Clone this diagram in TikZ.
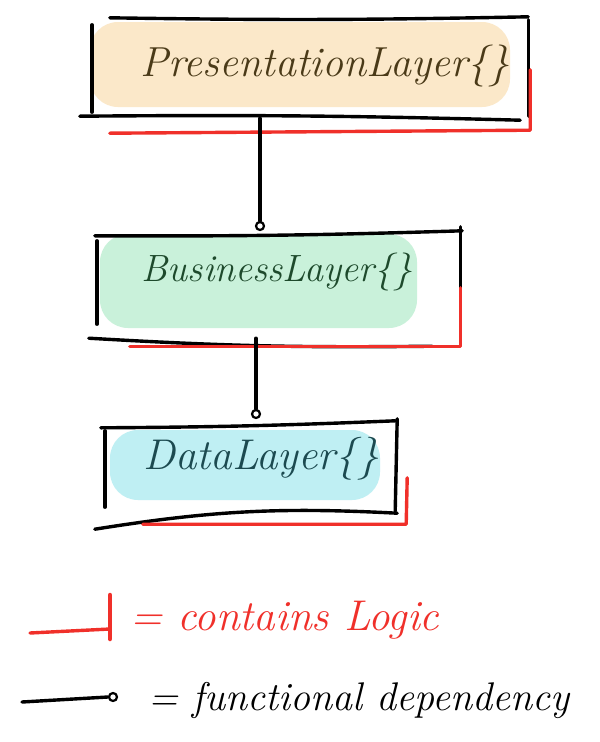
\documentclass[tikz,border=0pt]{standalone}
\usetikzlibrary{calc}
\definecolor{hlorange}{HTML}{FBE8C9}
\definecolor{hlgreen}{HTML}{C9F1DA}
\definecolor{hlcyan}{HTML}{BFEFF3}
\definecolor{presink}{HTML}{4A3A18}
\definecolor{busink}{HTML}{1E4A2C}
\definecolor{dataink}{HTML}{1C4A50}
\definecolor{redink}{HTML}{F0302A}
\begin{document}
\begin{tikzpicture}[x=1pt,y=-1pt,
  ink/.style={line width=3.4pt, line cap=round, draw=black},
  logic/.style={line width=3.4pt, line cap=round, line join=round, draw=redink},
  layerbox/.style={rectangle, inner sep=0pt},
  hl/.style={rounded corners=28pt},
  lbl/.style={font=\fontsize{#1}{#1}\selectfont\itshape, inner sep=0pt},
  lbl/.default=38,
  knob/.style={circle, draw=black, line width=2.2pt, inner sep=0pt, minimum size=8pt, fill=white}]
\useasboundingbox (0,0) rectangle (600,742);
\fill[white] (0,0) rectangle (600,742);

% ---------- highlights ----------
\fill[hlorange, hl] (90,22) rectangle (510,107);
\fill[hlgreen, hl] (100,234) rectangle (417,328);
\fill[hlcyan, hl] (110,430) rectangle (380,500);

% ---------- layer boxes ----------
\node[layerbox, minimum width=436pt, minimum height=100pt] (pres) at (310,68) {};
\node[layerbox, minimum width=363pt, minimum height=105pt] (bus) at (278.5,285.5) {};
\node[layerbox, minimum width=290pt, minimum height=90pt] (data) at (250,468) {};

\node[lbl=42, text=presink] (prestext) at (325,66) {PresentationLayer\{\}};
\node[lbl=38, text=busink] (bustext) at (277,272) {BusinessLayer\{\}};
\node[lbl=43, text=dataink] (datatext) at (261,459) {DataLayer\{\}};

% presentation box outline (hand drawn strokes)
\draw[ink] ($(pres.north west)+(18,0)$) to[bend right=1] ($(pres.north east)+(0,-1)$);
\draw[ink] ($(pres.north west)+(0,7)$) -- ($(pres.south west)+(0,-6)$);
\draw[ink] ($(pres.north east)+(0,2)$) -- ($(pres.south east)+(0,-2)$);
\draw[ink] ($(pres.south west)+(-12,-2)$) to[bend left=1] ($(pres.south east)+(-8,2)$);

% business box outline
\draw[ink] ($(bus.north west)+(-2,3)$) to[bend right=1] ($(bus.north east)+(2,-2)$);
\draw[ink] ($(bus.north west)+(0,8)$) -- ($(bus.south west)+(0,-14)$);
\draw[ink] ($(bus.north east)+(0,-6)$) -- ($(bus.south east)+(0,-20)$);
\draw[ink] ($(bus.south west)+(-8,0)$) to[bend right=2] ($(bus.south east)+(-28,8)$);

% data box outline
\draw[ink] ($(data.north west)+(-4,5)$) to[bend right=1] ($(data.north east)+(0,-2)$);
\draw[ink] ($(data.north west)+(0,8)$) -- ($(data.south west)+(0,-6)$);
\draw[ink] ($(data.north east)+(2,-4)$) -- ($(data.south east)+(0,-2)$);
\draw[ink] ($(data.south west)+(-10,16)$) to[bend left=6] ($(data.south east)+(2,0)$);

% ---------- contains-logic markers ----------
\draw[logic] ($(pres.south west)+(18,15)$) -- ($(pres.south east)+(2,12)$) -- ($(pres.north east)+(2,52)$);
\draw[logic] ($(bus.south west)+(33,8)$) -- ($(bus.south east)+(0,8)$) -- ($(bus.north east)+(0,55)$);
\draw[logic] ($(data.south west)+(38,11)$) -- ($(data.south east)+(11,11)$) -- ($(data.north east)+(12,55)$);

% ---------- functional dependencies ----------
\node[knob] (k1) at (260,226) {};
\node[knob] (k2) at (256,414) {};
\draw[ink] (k1 |- pres.south) -- (k1.north);
\draw[ink] (k2 |- bus.south) -- (k2.north);

% ---------- legend ----------
\coordinate (rl0) at (30,633);
\coordinate (rl1) at (110,629);
\coordinate (rlt) at (110,595);
\coordinate (rlb) at (110,639);
\draw[logic] (rl0) -- (rl1);
\draw[logic, line width=4.5pt] (rlt) -- (rlb);
\node[lbl=43, text=redink, anchor=west] (legred) at (130,620) {= contains Logic};

\coordinate (bl0) at (22,702);
\node[knob] (bk) at (113,697) {};
\draw[ink] (bl0) -- (bk.west);
\node[lbl=40, text=black, anchor=west] (legblack) at (148,700) {= functional dependency};
\end{tikzpicture}
\end{document}
